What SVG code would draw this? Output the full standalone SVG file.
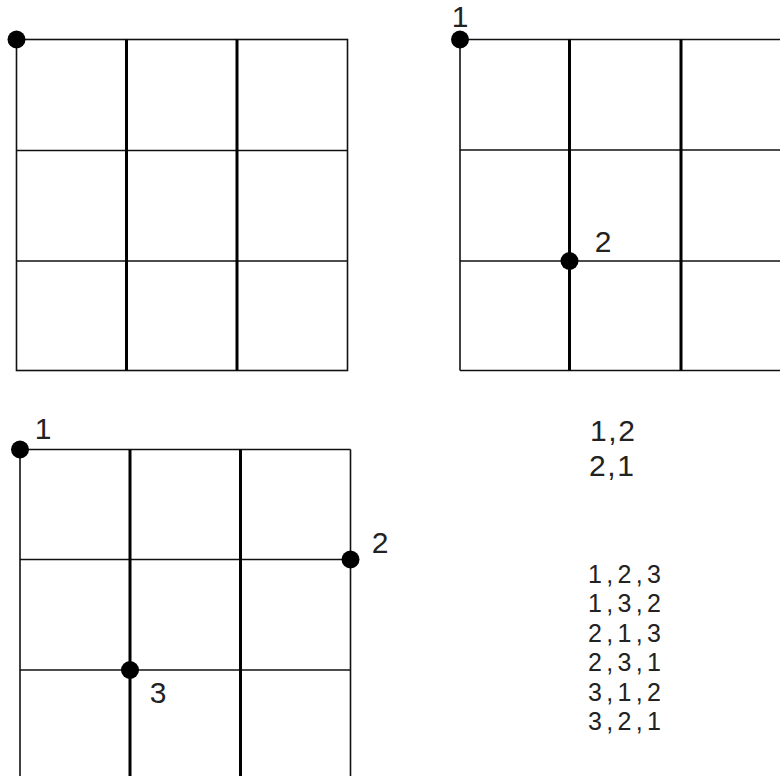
<svg xmlns="http://www.w3.org/2000/svg" width="780" height="776" viewBox="0 0 780 776">
<style>
.thin{stroke:#111;stroke-width:1.6;fill:none}
.thick{stroke:#000;stroke-width:3;fill:none}
.dot{fill:#000}
.lbl{font-family:"Liberation Sans",Arial,sans-serif;font-size:30px;fill:#222;text-anchor:middle}
.g1{font-family:"Liberation Sans",Arial,sans-serif;font-size:30px;fill:#222}
.g2{font-family:"Liberation Sans",Arial,sans-serif;font-size:25px;fill:#222}
</style>
<rect width="780" height="776" fill="#fff"/>
<g id="grid-a">
<rect class="thin" x="16.5" y="39.5" width="331" height="331"/>
<line class="thin" x1="16.5" y1="150.5" x2="347.5" y2="150.5"/>
<line class="thin" x1="16.5" y1="261" x2="347.5" y2="261"/>
<line class="thick" x1="126.5" y1="39.5" x2="126.5" y2="370.5"/>
<line class="thick" x1="237" y1="39.5" x2="237" y2="370.5"/>
<circle class="dot" cx="16.5" cy="39.5" r="9"/>
</g>
<g id="grid-b">
<line class="thin" x1="460" y1="39.5" x2="790" y2="39.5"/>
<line class="thin" x1="460" y1="150" x2="790" y2="150"/>
<line class="thin" x1="460" y1="261" x2="790" y2="261"/>
<line class="thin" x1="460" y1="370.5" x2="790" y2="370.5"/>
<line class="thin" x1="460" y1="39.5" x2="460" y2="370.5"/>
<line class="thick" x1="569.5" y1="39.5" x2="569.5" y2="370.5"/>
<line class="thick" x1="681" y1="39.5" x2="681" y2="370.5"/>
<circle class="dot" cx="460" cy="39.5" r="9"/>
<circle class="dot" cx="569.5" cy="261" r="9"/>
<text class="lbl" x="460" y="27">1</text>
<text class="lbl" x="603" y="252">2</text>
</g>
<g id="grid-c">
<line class="thin" x1="20" y1="449.5" x2="350.5" y2="449.5"/>
<line class="thin" x1="20" y1="559.5" x2="350.5" y2="559.5"/>
<line class="thin" x1="20" y1="670" x2="350.5" y2="670"/>
<line class="thin" x1="20" y1="449.5" x2="20" y2="790"/>
<line class="thin" x1="350.5" y1="449.5" x2="350.5" y2="790"/>
<line class="thick" x1="130" y1="449.5" x2="130" y2="790"/>
<line class="thick" x1="240.5" y1="449.5" x2="240.5" y2="790"/>
<circle class="dot" cx="20" cy="449.5" r="9"/>
<circle class="dot" cx="350.5" cy="559.5" r="9"/>
<circle class="dot" cx="130" cy="670" r="9"/>
<text class="lbl" x="43" y="439">1</text>
<text class="lbl" x="380" y="553">2</text>
<text class="lbl" x="158" y="703">3</text>
</g>
<g id="list-2">
<text class="g1" x="590" y="441" textLength="45" lengthAdjust="spacing">1,2</text>
<text class="g1" x="589" y="476" textLength="45" lengthAdjust="spacing">2,1</text>
</g>
<g id="list-3">
<text class="g2" x="588" y="583" textLength="73" lengthAdjust="spacing">1,2,3</text>
<text class="g2" x="588" y="612.4" textLength="73" lengthAdjust="spacing">1,3,2</text>
<text class="g2" x="588" y="641.8" textLength="73" lengthAdjust="spacing">2,1,3</text>
<text class="g2" x="588" y="671.2" textLength="73" lengthAdjust="spacing">2,3,1</text>
<text class="g2" x="588" y="700.6" textLength="73" lengthAdjust="spacing">3,1,2</text>
<text class="g2" x="588" y="730" textLength="73" lengthAdjust="spacing">3,2,1</text>
</g>
</svg>
